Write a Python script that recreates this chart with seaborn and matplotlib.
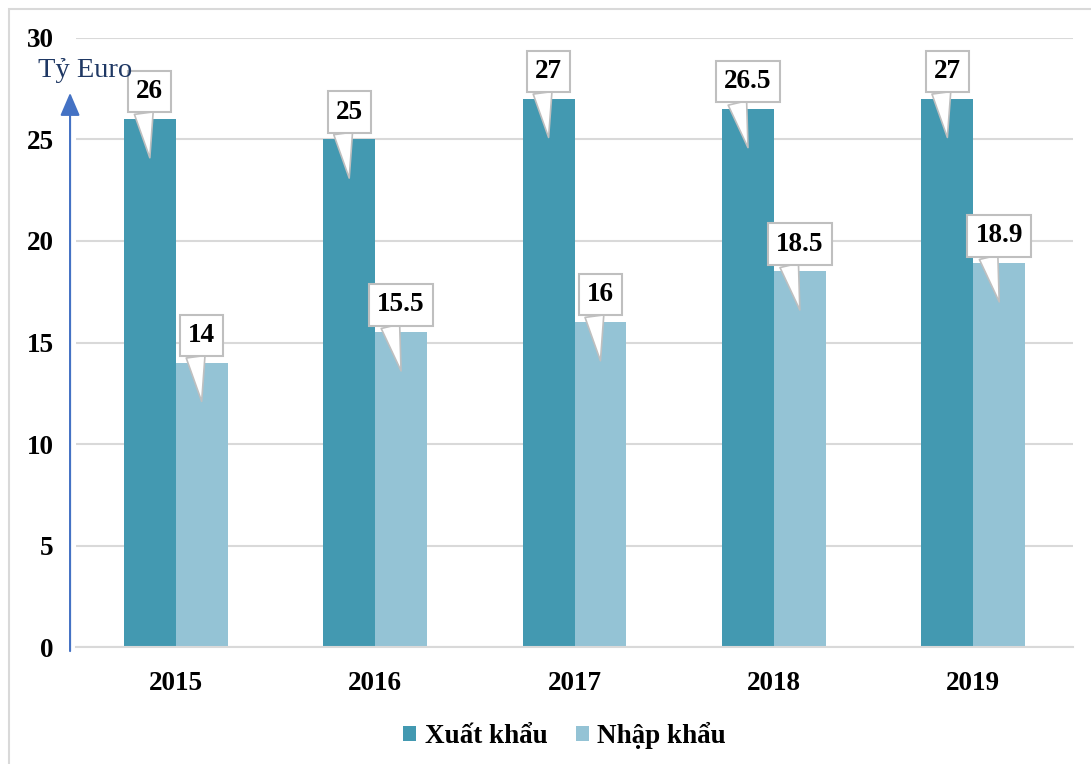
import pandas as pd
import matplotlib.pyplot as plt
import matplotlib.transforms as mtransforms
from matplotlib.patches import Rectangle
import seaborn as sns

years = ["2015", "2016", "2017", "2018", "2019"]
xuat_khau = [26, 25, 27, 26.5, 27]
nhap_khau = [14, 15.5, 16, 18.5, 18.9]
series = ["Xuất khẩu", "Nhập khẩu"]
colors = ["#4399B1", "#94C3D5"]

df = pd.DataFrame({
    "year": years * 2,
    "value": xuat_khau + nhap_khau,
    "series": [series[0]] * len(years) + [series[1]] * len(years),
})

sns.set_style("white")
plt.rcParams["font.family"] = ["Liberation Serif", "DejaVu Serif"]
plt.rcParams["text.color"] = "black"
plt.rcParams["xtick.color"] = "black"
plt.rcParams["ytick.color"] = "black"

fig = plt.figure(figsize=(10.91, 7.64), dpi=100)
ax = fig.add_axes([0.0697, 0.1531, 0.9138, 0.7972])

sns.barplot(data=df, x="year", y="value", hue="series", palette=colors,
            width=0.52, gap=0, saturation=1, linewidth=0, ax=ax, legend=True)

ax.set_xlim(-0.5, 4.5)
ax.set_ylim(0, 30)
ax.set_yticks(range(0, 31, 5))
ax.yaxis.grid(True, color="#D9D9D9", linewidth=1.5)
ax.set_axisbelow(True)
for s in ["top", "right", "left"]:
    ax.spines[s].set_visible(False)
ax.spines["bottom"].set_color("#D9D9D9")
ax.spines["bottom"].set_linewidth(1.5)
ax.tick_params(axis="both", length=0, labelsize=19.5)
ax.tick_params(axis="y", pad=16)
ax.tick_params(axis="x", pad=17)
for lab in ax.get_xticklabels() + ax.get_yticklabels():
    lab.set_fontweight("bold")
ax.set_xlabel("")
ax.set_ylabel("")

# callouts
for container, vals in zip(ax.containers, [xuat_khau, nhap_khau]):
    for bar, v in zip(container, vals):
        xc = bar.get_x() + bar.get_width() / 2
        ax.annotate(f"{v:g}", xy=(xc, v - 1.9), xytext=(0, 66),
                    textcoords="offset pixels", ha="center", va="center",
                    fontsize=19.5, fontweight="bold",
                    bbox=dict(boxstyle="square,pad=0.3", fc="white",
                              ec="#BFBFBF", lw=1.5),
                    arrowprops=dict(arrowstyle="wedge,tail_width=0.7,shrink_factor=0.5",
                                    fc="white", ec="#BFBFBF", lw=1.2,
                                    relpos=(0.22, 0.1), shrinkA=0, shrinkB=0))

# y axis arrow and unit
trans = mtransforms.blended_transform_factory(ax.transAxes, ax.transData)
ax.annotate("", xy=(-0.006, 27.3), xytext=(-0.006, -0.2), xycoords=trans,
            textcoords=trans,
            arrowprops=dict(arrowstyle="-|>,head_width=0.6,head_length=1.4",
                            color="#4472C4", lw=1.5, shrinkA=0, shrinkB=0),
            annotation_clip=False)
ax.text(-0.038, 28.4, "Tỷ Euro", transform=trans, fontsize=20.5,
        color="#1F3864", ha="left", va="center")

handles, labels = ax.get_legend_handles_labels()
ax.legend(handles, labels, loc="center", bbox_to_anchor=(0.49, -0.145),
          ncol=2, frameon=False, handlelength=0.5, handleheight=0.5,
          handletextpad=0.3, columnspacing=1.05,
          prop={"size": 19.5, "weight": "bold"})

fig.patches.append(Rectangle((9 / 1091, -0.1), 1.2, 1.1 - 9 / 764,
                             transform=fig.transFigure, fill=False,
                             ec="#D9D9D9", lw=1.5))

fig.savefig("out.png", dpi=100)
